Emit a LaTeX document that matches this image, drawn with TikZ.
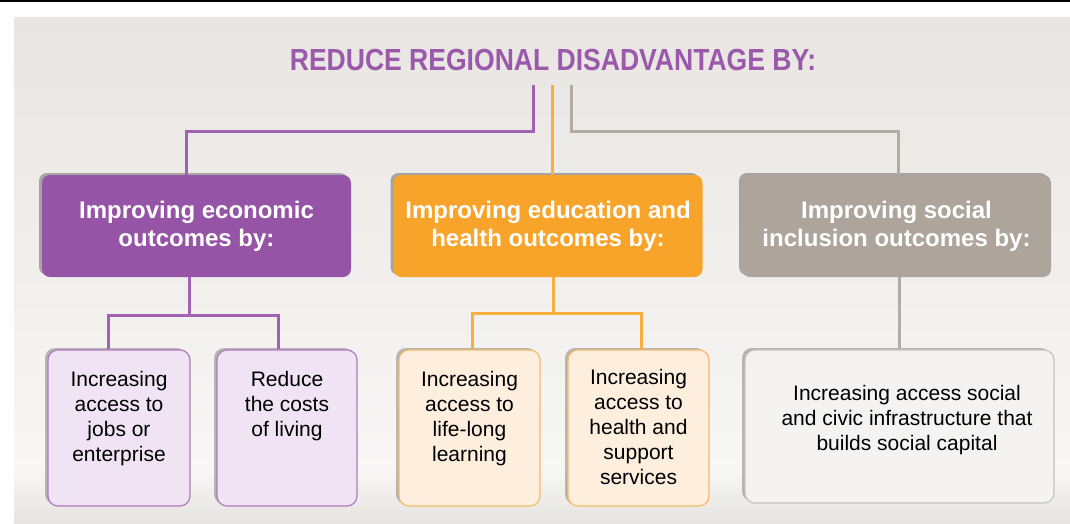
\documentclass[tikz,border=0pt]{standalone}
\usepackage{graphicx}
\usepackage{fontspec}
\setmainfont{Liberation Sans}
\usetikzlibrary{positioning,shadows}

\definecolor{econdark}{HTML}{9654A6}
\definecolor{econline}{HTML}{A262B3}
\definecolor{econlight}{HTML}{F0E3F4}
\definecolor{econedge}{HTML}{B07BBF}
\definecolor{edudark}{HTML}{F8A42A}
\definecolor{eduline}{HTML}{F9AE3E}
\definecolor{edulight}{HTML}{FDEEDD}
\definecolor{eduedge}{HTML}{F5BB6A}
\definecolor{socdark}{HTML}{ADA59C}
\definecolor{socline}{HTML}{B3ACA4}
\definecolor{soclight}{HTML}{F4F3F1}
\definecolor{socedge}{HTML}{C8C3BD}
\definecolor{titlecol}{HTML}{9B59AB}
\definecolor{paneltop}{HTML}{E8E5E2}
\definecolor{panelmid}{HTML}{F8F7F5}
\definecolor{panelbot}{HTML}{E6E3E0}

\tikzset{
  headbox/.style={rounded corners=8pt, minimum width=309pt, minimum height=102pt,
    inner sep=0pt, align=center, text=white,
    font=\bfseries\fontsize{24}{28}\selectfont,
    general shadow={shadow xshift=-3pt, shadow yshift=2pt, fill=black, opacity=.3}},
  leafbox/.style={rounded corners=10pt, line width=1.2pt, minimum height=156pt,
    inner sep=0pt,
    general shadow={shadow xshift=-3pt, shadow yshift=2pt, fill=black, opacity=.25}},
  leaftext/.style={anchor=north, inner sep=0pt, align=center,
    font=\fontsize{21}{25}\selectfont},
  link/.style={line width=3pt},
}

\begin{document}
\begin{tikzpicture}[x=1pt,y=-1pt]
	\useasboundingbox (0,0) rectangle (1070,523);
	\fill[white] (0,0) rectangle (1070,523);
	\shade[top color=paneltop, bottom color=panelmid] (14,17) rectangle (1070,470);
	\shade[top color=panelmid, bottom color=panelbot] (14,470) rectangle (1070,523);
	\draw[line width=1.5pt] (0,1) -- (1070,1);
	
	% title
	\node[text=titlecol, font=\bfseries\fontsize{30.5}{34}\selectfont] (title) at (553,60)
		{\scalebox{0.87}[1]{REDUCE REGIONAL DISADVANTAGE BY:}};
	
	% first level
	\node[headbox, fill=econdark] (econ) at (196.5,226) {Improving economic\\outcomes by:};
	\node[headbox, fill=edudark] (edu) at (548,226) {Improving education and\\health outcomes by:};
	\node[headbox, fill=socdark] (social) at (896.5,226) {Improving social\\inclusion outcomes by:};
	
	% second level
	\node[leafbox, fill=econlight, draw=econedge, minimum width=142pt] (econA) at (119,428) {};
	\node[leafbox, fill=econlight, draw=econedge, minimum width=140pt] (econB) at (287,428) {};
	\node[leafbox, fill=edulight, draw=eduedge, minimum width=141pt] (eduA) at (469.5,428) {};
	\node[leafbox, fill=edulight, draw=eduedge, minimum width=141pt] (eduB) at (638.5,428) {};
	\node[leafbox, fill=soclight, draw=socedge, minimum width=309pt, minimum height=153pt] (soc) at (899.5,426.5) {};
	
	\node[leaftext] (econAtxt) at (119,371) {Increasing\\access to\\jobs or\\enterprise};
	\node[leaftext] (econBtxt) at (287,371) {Reduce\\the costs\\of living};
	\node[leaftext] (eduAtxt) at (469.5,371) {Increasing\\access to\\life-long\\learning};
	\node[leaftext] (eduBtxt) at (638.5,369) {Increasing\\access to\\health and\\support\\services};
	\node[leaftext] (soctxt) at (907,385) {Increasing access social\\and civic infrastructure that\\builds social capital};
	
	% connectors from the title
	\coordinate (rootP) at (533,85);
	\coordinate (rootO) at (552,85);
	\coordinate (rootG) at (571,85);
	\coordinate (kneeP) at (186,131);
	\coordinate (kneeG) at (898,131);
	\draw[link, econline] (rootP) |- (kneeP) -- (kneeP |- econ.north);
	\draw[link, eduline] (rootO) -- (rootO |- edu.north);
	\draw[link, socline] (rootG) |- (kneeG) -- (kneeG |- social.north);
	
	% connectors to the second level
	\coordinate (forkP) at (189,315);
	\coordinate (legPA) at (108,315);
	\coordinate (legPB) at (278,315);
	\draw[link, econline] (forkP |- econ.south) -- (forkP);
	\draw[link, econline] (legPA |- econA.north) -- (legPA) -- (legPB) -- (legPB |- econB.north);
	
	\coordinate (forkO) at (553,313);
	\coordinate (legOA) at (472,313);
	\coordinate (legOB) at (641,313);
	\draw[link, eduline] (forkO |- edu.south) -- (forkO);
	\draw[link, eduline] (legOA |- eduA.north) -- (legOA) -- (legOB) -- (legOB |- eduB.north);
	
	\coordinate (forkG) at (899,300);
	\draw[link, socline] (forkG |- social.south) -- (forkG |- soc.north);
\end{tikzpicture}
\end{document}
